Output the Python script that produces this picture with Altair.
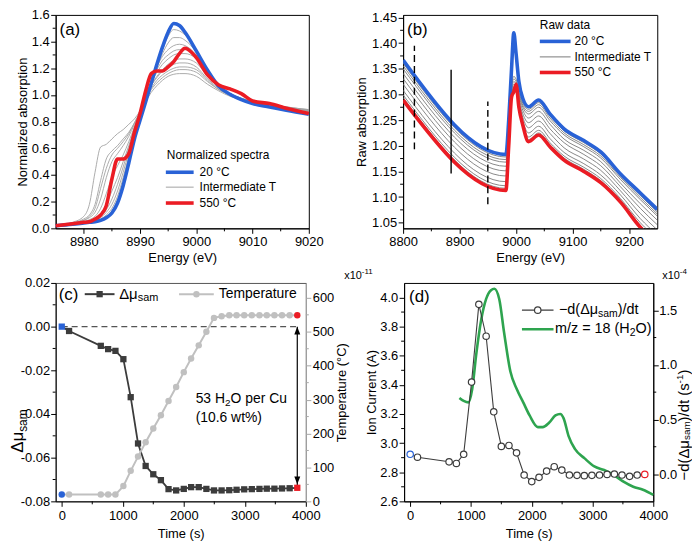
import altair as alt
import pandas as pd

FONT = "Liberation Sans"
BLUE = "#2962d6"
RED = "#eb1c24"
GREEN = "#2ea44f"
DARK = "#3c3c3c"
LIGHT = "#c0c0c0"
AXGREY = "#a8a8a8"

# ---------------- (a) normalized spectra ----------------
E_A = [8975, 8978, 8980, 8981, 8982, 8983, 8984, 8985, 8986, 8987, 8988, 8989, 8990, 8991,
       8992, 8993, 8994, 8995, 8996, 8997, 8998, 9000, 9002, 9004, 9006, 9008, 9010, 9013,
       9016, 9020]
A_BLUE = [0.02, 0.03, 0.04, 0.045, 0.05, 0.06, 0.08, 0.115, 0.19, 0.32, 0.49, 0.67, 0.81, 0.95,
          1.09, 1.23, 1.36, 1.47, 1.535, 1.52, 1.47, 1.33, 1.185, 1.065, 1.005, 0.965, 0.935, 0.91,
          0.885, 0.855]
A_RED = [0.02, 0.035, 0.045, 0.05, 0.07, 0.10, 0.17, 0.37, 0.52, 0.52, 0.56, 0.72, 0.86, 1.03,
         1.16, 1.18, 1.18, 1.21, 1.25, 1.31, 1.35, 1.28, 1.15, 1.075, 1.045, 1.01, 0.955, 0.935,
         0.90, 0.86]
A_GREY = [
    [0.02, 0.03, 0.04, 0.05, 0.055, 0.065, 0.09, 0.13, 0.21, 0.35, 0.52, 0.69, 0.83, 0.96, 1.09, 1.22, 1.34, 1.44, 1.49, 1.48, 1.45, 1.33, 1.19, 1.07, 1.00, 0.96, 0.94, 0.915, 0.89, 0.865],
    [0.02, 0.03, 0.04, 0.05, 0.06, 0.07, 0.10, 0.15, 0.24, 0.38, 0.54, 0.70, 0.84, 0.97, 1.09, 1.21, 1.31, 1.39, 1.43, 1.43, 1.41, 1.32, 1.18, 1.07, 1.00, 0.965, 0.94, 0.92, 0.895, 0.87],
    [0.02, 0.03, 0.045, 0.05, 0.06, 0.08, 0.12, 0.18, 0.28, 0.42, 0.57, 0.72, 0.85, 0.98, 1.10, 1.21, 1.29, 1.34, 1.37, 1.38, 1.37, 1.30, 1.17, 1.07, 1.00, 0.97, 0.945, 0.925, 0.90, 0.875],
    [0.02, 0.03, 0.045, 0.055, 0.065, 0.09, 0.14, 0.22, 0.33, 0.46, 0.60, 0.74, 0.86, 0.99, 1.10, 1.19, 1.26, 1.30, 1.33, 1.34, 1.34, 1.29, 1.16, 1.07, 1.01, 0.975, 0.95, 0.93, 0.905, 0.88],
    [0.02, 0.035, 0.05, 0.06, 0.075, 0.11, 0.18, 0.28, 0.38, 0.50, 0.62, 0.75, 0.87, 0.99, 1.09, 1.17, 1.23, 1.27, 1.30, 1.31, 1.31, 1.27, 1.15, 1.07, 1.01, 0.975, 0.95, 0.93, 0.905, 0.88],
    [0.02, 0.035, 0.05, 0.065, 0.09, 0.15, 0.26, 0.38, 0.47, 0.55, 0.65, 0.76, 0.87, 0.98, 1.07, 1.14, 1.19, 1.23, 1.26, 1.27, 1.27, 1.24, 1.14, 1.06, 1.01, 0.975, 0.95, 0.93, 0.905, 0.88],
    [0.02, 0.04, 0.06, 0.08, 0.12, 0.22, 0.38, 0.50, 0.56, 0.62, 0.69, 0.78, 0.87, 0.97, 1.05, 1.11, 1.15, 1.18, 1.20, 1.21, 1.21, 1.19, 1.11, 1.04, 1.00, 0.97, 0.95, 0.93, 0.905, 0.885],
    [0.02, 0.04, 0.07, 0.10, 0.18, 0.36, 0.52, 0.58, 0.62, 0.67, 0.72, 0.79, 0.87, 0.96, 1.04, 1.09, 1.13, 1.16, 1.18, 1.19, 1.19, 1.17, 1.10, 1.04, 1.00, 0.97, 0.95, 0.93, 0.91, 0.89],
    [0.02, 0.045, 0.09, 0.18, 0.42, 0.61, 0.63, 0.67, 0.71, 0.74, 0.78, 0.82, 0.88, 0.95, 1.02, 1.07, 1.11, 1.14, 1.155, 1.16, 1.16, 1.14, 1.08, 1.03, 0.99, 0.965, 0.945, 0.93, 0.91, 0.89],
    [0.02, 0.04, 0.06, 0.09, 0.15, 0.30, 0.45, 0.55, 0.60, 0.65, 0.71, 0.79, 0.88, 0.98, 1.07, 1.13, 1.18, 1.21, 1.23, 1.24, 1.24, 1.21, 1.12, 1.05, 1.00, 0.97, 0.95, 0.93, 0.905, 0.885],
]
A_XTICKS = [8980, 8990, 9000, 9010, 9020]
A_XMINOR = [8985, 8995, 9005, 9015]
A_YTICKS = [0.0, 0.2, 0.4, 0.6, 0.8, 1.0, 1.2, 1.4, 1.6]
A_YMINOR = [0.1, 0.3, 0.5, 0.7, 0.9, 1.1, 1.3, 1.5]
A_LEGEND = ["20 \u00b0C", "Intermediate T", "550 \u00b0C"]

# ---------------- (b) raw data ----------------
E_B = [8800, 8982, 8987, 8992, 8996, 9000, 9005, 9012, 9022, 9040, 9060, 9085, 9120, 9150, 9185, 9220, 9250]
B_BLUE = [1.367, 1.183, 1.25, 1.35, 1.42, 1.38, 1.325, 1.292, 1.276, 1.289, 1.262, 1.233, 1.210, 1.188, 1.145, 1.108, 1.076]
B_RED = [1.289, 1.113, 1.20, 1.295, 1.305, 1.32, 1.275, 1.24, 1.208, 1.221, 1.198, 1.172, 1.150, 1.128, 1.090, 1.041, 1.010]
B_GREY = [
    [1.361, 1.178, 1.235, 1.32, 1.335, 1.33, 1.305, 1.283, 1.271, 1.284, 1.258, 1.229, 1.206, 1.184, 1.141, 1.103, 1.071],
    [1.356, 1.173, 1.23, 1.315, 1.33, 1.325, 1.301, 1.279, 1.267, 1.280, 1.254, 1.225, 1.202, 1.180, 1.138, 1.099, 1.067],
    [1.350, 1.168, 1.225, 1.31, 1.325, 1.32, 1.297, 1.275, 1.262, 1.275, 1.249, 1.221, 1.198, 1.176, 1.134, 1.095, 1.063],
    [1.341, 1.160, 1.22, 1.305, 1.32, 1.315, 1.292, 1.269, 1.254, 1.267, 1.242, 1.213, 1.191, 1.169, 1.127, 1.087, 1.055],
    [1.331, 1.151, 1.215, 1.30, 1.315, 1.312, 1.287, 1.262, 1.245, 1.258, 1.233, 1.206, 1.183, 1.161, 1.120, 1.078, 1.046],
    [1.320, 1.141, 1.21, 1.30, 1.312, 1.31, 1.283, 1.255, 1.235, 1.248, 1.224, 1.196, 1.174, 1.152, 1.112, 1.068, 1.036],
    [1.308, 1.130, 1.205, 1.298, 1.31, 1.31, 1.279, 1.248, 1.225, 1.238, 1.214, 1.187, 1.165, 1.143, 1.104, 1.058, 1.026],
    [1.299, 1.122, 1.20, 1.296, 1.308, 1.315, 1.277, 1.243, 1.217, 1.230, 1.206, 1.180, 1.158, 1.136, 1.097, 1.050, 1.018],
    [1.294, 1.117, 1.20, 1.295, 1.306, 1.318, 1.276, 1.241, 1.212, 1.225, 1.202, 1.176, 1.154, 1.132, 1.094, 1.045, 1.014],
]
B_XTICKS = [8800, 8900, 9000, 9100, 9200]
B_XMINOR = [8850, 8950, 9050, 9150]
B_YTICKS = [1.05, 1.10, 1.15, 1.20, 1.25, 1.30, 1.35, 1.40, 1.45]
B_YMINOR = [1.075, 1.125, 1.175, 1.225, 1.275, 1.325, 1.375, 1.425]
B_MARK_E = [8820, 8885, 8950]
B_MARK_LO = [1.193, 1.146, 1.086]
B_MARK_HI = [1.395, 1.348, 1.286]
B_MARK_DASHED = [True, False, True]
B_LEGEND = ["20 \u00b0C", "Intermediate T", "550 \u00b0C"]

# ---------------- (c) and (d) time series ----------------
T_TIME = [0, 120, 640, 760, 880, 1010, 1130, 1250, 1375, 1500, 1625, 1750, 1875, 2000, 2120,
          2245, 2370, 2495, 2620, 2745, 2865, 2990, 3115, 3240, 3360, 3485, 3610, 3735, 3860]
C_DMU = [0.000, -0.002, -0.0088, -0.0103, -0.0111, -0.0149, -0.0323, -0.0535, -0.0638, -0.0676,
         -0.0703, -0.0744, -0.0750, -0.0743, -0.0735, -0.0735, -0.0743, -0.0750, -0.0750, -0.0749,
         -0.0747, -0.0745, -0.0744, -0.0743, -0.0742, -0.0742, -0.0741, -0.0740, -0.0738]
C_TEMP = [20, 20, 20, 20, 20, 45, 90, 132, 174, 215, 254, 296, 337, 381, 421, 460, 500, 541, 546,
          549, 549, 549, 549, 549, 549, 549, 549, 549, 549]
D_DERIV = [0.181, 0.154, 0.112, 0.097, 0.181, 0.842, 1.554, 1.262, 0.570, 0.253, 0.262, 0.194,
           -0.009, -0.069, -0.030, 0.027, 0.067, 0.036, -0.009, -0.012, -0.015, -0.012, -0.009,
           -0.003, 0.000, -0.009, -0.021, -0.009, -0.003]
MS_TIME = [810, 880, 960, 1020, 1090, 1170, 1250, 1330, 1385, 1465, 1545, 1650, 1755, 1860, 1965,
           2100, 2180, 2285, 2390, 2470, 2525, 2605, 2710, 2870, 3030, 3190, 3350, 3510, 3670, 3830, 4000]
MS_ION = [3.31, 3.29, 3.28, 3.37, 3.62, 3.85, 3.99, 4.05, 4.06, 3.99, 3.76, 3.49, 3.37, 3.28, 3.19,
          3.11, 3.11, 3.14, 3.19, 3.20, 3.17, 3.05, 2.96, 2.895, 2.84, 2.815, 2.78, 2.735, 2.70, 2.68, 2.645]
TIME_TICKS = [0, 1000, 2000, 3000, 4000]
TIME_MINOR = [500, 1500, 2500, 3500]
C_YTICKS = [-0.08, -0.06, -0.04, -0.02, 0.0, 0.02]
C_YMINOR = [-0.07, -0.05, -0.03, -0.01, 0.01]
T_TICKS = [0, 100, 200, 300, 400, 500, 600]
T_MINOR = [50, 150, 250, 350, 450, 550]
D_YTICKS = [2.6, 2.8, 3.0, 3.2, 3.4, 3.6, 3.8, 4.0]
D_YMINOR = [2.7, 2.9, 3.1, 3.3, 3.5, 3.7, 3.9]
D_RTICKS = [0.0, 0.5, 1.0, 1.5]
D_RMINOR = [0.25, 0.75, 1.25]

H1, H2 = 215, 220
WA, WB, WC, WD = 255, 256, 252, 251
TC = 40  # tick count cap high enough that no listed tick value is dropped
ONE = pd.DataFrame({"k": [0]})
MINUS_FIX = "replace(datum.label, '\u2212', '-')"


def text(s, x, y, size=13, align="left", color="black", angle=None, baseline="middle"):
    kw = dict(text=s, font=FONT, fontSize=size, align=align, baseline=baseline, color=color)
    if angle is not None:
        kw["angle"] = angle
    return alt.Chart(ONE).mark_text(**kw).encode(x=alt.value(x), y=alt.value(y))


def seg(x1, x2, y, color, width):
    return alt.Chart(ONE).mark_rule(color=color, strokeWidth=width).encode(
        x=alt.value(x1), x2=alt.value(x2), y=alt.value(y))


def sym(x, y, shape, color, size, filled=True):
    if filled:
        m = alt.Chart(ONE).mark_point(shape=shape, filled=True, color=color, size=size, opacity=1)
    else:
        m = alt.Chart(ONE).mark_point(shape=shape, filled=False, color=color, fill="white",
                                      fillOpacity=1, size=size, strokeWidth=1.2, opacity=1)
    return m.encode(x=alt.value(x), y=alt.value(y))


def minor_x(vals, scale, h, color="black"):
    return alt.Chart(pd.DataFrame({"m": vals})).mark_rule(color=color, strokeWidth=1).encode(
        x=alt.X("m:Q", scale=scale), y=alt.value(h), y2=alt.value(h + 3))


def minor_y(vals, scale, x0, dx, color="black"):
    return alt.Chart(pd.DataFrame({"m": vals})).mark_rule(color=color, strokeWidth=1).encode(
        y=alt.Y("m:Q", scale=scale), x=alt.value(x0), x2=alt.value(x0 + dx))


def long_df(xs, curves, xname, yname):
    rows = []
    for i, c in enumerate(curves):
        for xv, yv in zip(xs, c):
            rows.append({"curve": i, xname: xv, yname: yv})
    return pd.DataFrame(rows)


# ---------------- panel (a) ----------------
sxa = alt.Scale(domain=[8975, 9020], nice=False, zero=False)
sya = alt.Scale(domain=[0, 1.6], nice=False, zero=False)
xa = alt.X("E:Q", scale=sxa, axis=alt.Axis(values=A_XTICKS, tickCount=TC, format="d", title="Energy (eV)",
                                            labelFlush=False, labelOverlap=False,
                                            labelPadding=2, titlePadding=3))
ya = alt.Y("mu:Q", scale=sya, axis=alt.Axis(values=A_YTICKS, tickCount=TC, format=".1f", labelOverlap=False,
                                             title="Normalized absorption", titlePadding=2))
a_grey = alt.Chart(long_df(E_A, A_GREY, "E", "mu")).mark_line(
    color="#a2a2a2", strokeWidth=0.9, interpolate="monotone").encode(x=xa, y=ya, detail="curve:N")
a_blue = alt.Chart(pd.DataFrame({"E": E_A, "mu": A_BLUE})).mark_line(
    color=BLUE, strokeWidth=3.6, interpolate="monotone").encode(x=xa, y=ya)
a_red = alt.Chart(pd.DataFrame({"E": E_A, "mu": A_RED})).mark_line(
    color=RED, strokeWidth=3.6, interpolate="monotone").encode(x=xa, y=ya)
panel_a = alt.layer(
    a_grey, a_blue, a_red,
    minor_x(A_XMINOR, sxa, H1), minor_y(A_YMINOR, sya, 0, -3),
    text("(a)", 4, 15, size=17),
    text("Normalized spectra", 112, 141.5, size=12),
    seg(111, 139, 158.5, BLUE, 3.6), text(A_LEGEND[0], 145, 158.5, size=12),
    seg(111, 139, 173.5, "#a2a2a2", 1), text(A_LEGEND[1], 145, 173.5, size=12),
    seg(111, 139, 189.5, RED, 3.6), text(A_LEGEND[2], 145, 189.5, size=12),
).properties(width=WA, height=H1)

# ---------------- panel (b) ----------------
sxb = alt.Scale(domain=[8800, 9250], nice=False, zero=False)
syb = alt.Scale(domain=[1.039, 1.455], nice=False, zero=False)
xb = alt.X("E:Q", scale=sxb, axis=alt.Axis(values=B_XTICKS, tickCount=TC, format="d", title="Energy (eV)",
                                            labelFlush=False, labelOverlap=False,
                                            labelPadding=2, titlePadding=3))
yb = alt.Y("mu:Q", scale=syb, axis=alt.Axis(values=B_YTICKS, tickCount=TC, format=".2f", labelOverlap=False,
                                             title="Raw absorption", titlePadding=3.5))
b_grey = alt.Chart(long_df(E_B, B_GREY, "E", "mu")).mark_line(
    color="#7a7a7a", strokeWidth=0.9, interpolate="monotone", clip=True).encode(x=xb, y=yb, detail="curve:N")
b_blue = alt.Chart(pd.DataFrame({"E": E_B, "mu": B_BLUE})).mark_line(
    color=BLUE, strokeWidth=3.6, interpolate="monotone", clip=True).encode(x=xb, y=yb)
b_red = alt.Chart(pd.DataFrame({"E": E_B, "mu": B_RED})).mark_line(
    color=RED, strokeWidth=3.6, interpolate="monotone", clip=True).encode(x=xb, y=yb)
marks_df = pd.DataFrame({"E": B_MARK_E, "lo": B_MARK_LO, "hi": B_MARK_HI, "dashed": B_MARK_DASHED})
b_dash = alt.Chart(marks_df[marks_df["dashed"]]).mark_rule(color="black", strokeWidth=1.4, strokeDash=[7, 4]).encode(
    x=alt.X("E:Q", scale=sxb), y=alt.Y("lo:Q", scale=syb), y2="hi:Q")
b_solid = alt.Chart(marks_df[~marks_df["dashed"]]).mark_rule(color="black", strokeWidth=1.4).encode(
    x=alt.X("E:Q", scale=sxb), y=alt.Y("lo:Q", scale=syb), y2="hi:Q")
panel_b = alt.layer(
    b_grey, b_blue, b_red, b_dash, b_solid,
    minor_x(B_XMINOR, sxb, H1), minor_y(B_YMINOR, syb, 0, -3),
    text("(b)", 4, 15, size=17),
    text("Raw data", 137.7, 10, size=12),
    seg(137.7, 168.7, 26.7, BLUE, 3.6), text(B_LEGEND[0], 172.7, 26.7, size=12),
    seg(137.7, 168.7, 42.3, "#7a7a7a", 1), text(B_LEGEND[1], 172.7, 42.3, size=12),
    seg(137.7, 168.7, 58, RED, 3.6), text(B_LEGEND[2], 172.7, 58, size=12),
).properties(width=WB, height=H1)

# ---------------- panel (c) ----------------
sxt = alt.Scale(domain=[-100, 4000], nice=False, zero=False)
syc = alt.Scale(domain=[-0.08, 0.02], nice=False, zero=False)
syT = alt.Scale(domain=[0, 644], nice=False, zero=False)
dfc = pd.DataFrame({"t": T_TIME, "dmu": C_DMU, "T": C_TEMP, "d": D_DERIV})
xt_axis = alt.Axis(values=TIME_TICKS, tickCount=TC, format="d", title="Time (s)", labelFlush=False,
                   labelOverlap=False, labelPadding=3, titlePadding=5)
xc = alt.X("t:Q", scale=sxt, axis=xt_axis)
xc_plain = alt.X("t:Q", scale=sxt)
yc = alt.Y("dmu:Q", scale=syc, axis=alt.Axis(values=C_YTICKS, tickCount=TC, format=".2f", title=None,
                                              labelOverlap=False, labelExpr=MINUS_FIX, labelPadding=1))
yc_plain = alt.Y("dmu:Q", scale=syc)
yT = alt.Y("T:Q", scale=syT, axis=alt.Axis(orient="right", values=T_TICKS, tickCount=TC, format="d",
                                            title="Temperature (\u00b0C)", titleAngle=270,
                                            titleBaseline="top", domainColor=AXGREY, labelOverlap=False,
                                            tickColor=AXGREY, labelPadding=1.5, titlePadding=2))
yT_plain = alt.Y("T:Q", scale=syT)
zero_df = pd.DataFrame({"t0": [T_TIME[0]], "t1": [T_TIME[-1]], "z": [0.0]})
c_zero = alt.Chart(zero_df).mark_rule(color="#555555", strokeWidth=1.2, strokeDash=[6, 4]).encode(
    x=alt.X("t0:Q", scale=sxt), x2="t1:Q", y=alt.Y("z:Q", scale=syc))
arrow_df = pd.DataFrame({"t": [T_TIME[-1]], "y0": [0.0], "y1": [C_DMU[-1]]})
c_arrow = alt.Chart(arrow_df).mark_rule(color="black", strokeWidth=1.2).encode(
    x=alt.X("t:Q", scale=sxt), y=alt.Y("y0:Q", scale=syc), y2="y1:Q")
c_head_top = alt.Chart(arrow_df).mark_point(shape="M0,0L-0.75,2L0.75,2Z", filled=True, color="black",
                                            size=64, opacity=1).encode(
    x=alt.X("t:Q", scale=sxt), y=alt.Y("y0:Q", scale=syc))
c_head_bot = alt.Chart(arrow_df).mark_point(shape="M0,-0.875L-0.75,-2.875L0.75,-2.875Z", filled=True,
                                            color="black", size=64, opacity=1).encode(
    x=alt.X("t:Q", scale=sxt), y=alt.Y("y1:Q", scale=syc))
c_dmu_line = alt.Chart(dfc).mark_line(color=DARK, strokeWidth=1.8).encode(x=xc, y=yc)
c_dmu_mid = alt.Chart(dfc.iloc[1:-1]).mark_square(size=40, color=DARK, opacity=1).encode(x=xc_plain, y=yc_plain)
c_dmu_first = alt.Chart(dfc.iloc[[0]]).mark_square(size=40, color=BLUE, opacity=1).encode(x=xc_plain, y=yc_plain)
c_dmu_last = alt.Chart(dfc.iloc[[-1]]).mark_square(size=40, color=RED, opacity=1).encode(x=xc_plain, y=yc_plain)
c_left = alt.layer(
    c_dmu_line, c_zero, c_arrow, c_head_top, c_head_bot, c_dmu_mid, c_dmu_first, c_dmu_last,
    minor_x(TIME_MINOR, sxt, H2), minor_y(C_YMINOR, syc, 0, -3),
    text("(c)", 3, 12, size=17),
    seg(29.3, 59.3, 11.3, DARK, 2), sym(44.3, 11.3, "square", DARK, 40),
    text("\u0394\u03bc", 64, 11.3, size=15), text("sam", 82.7, 15.5, size=11),
    seg(124.3, 159.3, 11.3, LIGHT, 2), sym(141.8, 11.3, "circle", LIGHT, 42),
    text("Temperature", 164.3, 11.3, size=14),
    text("53 H", 141, 117, size=14), text("2", 170.6, 121, size=10), text("O per Cu", 176.2, 117, size=14),
    text("(10.6 wt%)", 141, 136, size=14),
    text("\u0394\u03bc", -38, 171, size=17, angle=270), text("sam", -33, 150, size=12, angle=270),
)
c_T_line = alt.Chart(dfc).mark_line(color=LIGHT, strokeWidth=2).encode(x=xc_plain, y=yT)
c_T_mid = alt.Chart(dfc.iloc[1:-1]).mark_circle(size=42, color=LIGHT, opacity=1).encode(x=xc_plain, y=yT_plain)
c_T_first = alt.Chart(dfc.iloc[[0]]).mark_circle(size=42, color=BLUE, opacity=1).encode(x=xc_plain, y=yT_plain)
c_T_last = alt.Chart(dfc.iloc[[-1]]).mark_circle(size=42, color=RED, opacity=1).encode(x=xc_plain, y=yT_plain)
c_right = alt.layer(c_T_line, c_T_mid, c_T_first, c_T_last, minor_y(T_MINOR, syT, WC, 3, AXGREY))
panel_c = alt.layer(c_left, c_right).resolve_scale(y="independent").properties(
    width=WC, height=H2, view=alt.ViewBackground(stroke="#555555"))

# ---------------- panel (d) ----------------
syi = alt.Scale(domain=[2.6, 4.1], nice=False, zero=False)
syd = alt.Scale(domain=[-0.25, 1.75], nice=False, zero=False)
dfm = pd.DataFrame({"t": MS_TIME, "ion": MS_ION})
yi = alt.Y("ion:Q", scale=syi, axis=alt.Axis(values=D_YTICKS, tickCount=TC, format=".1f", title="Ion Current (A)",
                                              labelOverlap=False, titlePadding=1))
yd = alt.Y("d:Q", scale=syd, axis=alt.Axis(orient="right", values=D_RTICKS, tickCount=TC, format=".1f", title=None,
                                            labelOverlap=False, labelPadding=0.5))
yd_plain = alt.Y("d:Q", scale=syd)
d_green = alt.Chart(dfm).mark_line(color=GREEN, strokeWidth=2.6, interpolate="monotone").encode(
    x=alt.X("t:Q", scale=sxt, axis=xt_axis), y=yi)
RX = 281.5
d_left = alt.layer(
    d_green, minor_x(TIME_MINOR, sxt, H2), minor_y(D_YMINOR, syi, 0, -3),
    text("(d)", 5, 13.7, size=17),
    seg(118.7, 150.5, 27.4, DARK, 1.2), sym(134.6, 27.4, "circle", DARK, 42, filled=False),
    text("\u2212d(\u0394\u03bc", 156, 27.4, size=14.5), text("sam", 195.4, 31.5, size=10.5),
    text(")/dt", 215.2, 27.4, size=14.5),
    seg(118.7, 150.5, 46.7, GREEN, 2.6),
    text("m/z = 18 (H", 152, 46.7, size=14.5), text("2", 227.3, 50.8, size=10.5),
    text("O)", 233.1, 46.7, size=14.5),
    text("x10", -42.6, -7.3, size=11, align="right"), text("-11", -42.6, -11, size=8),
    text("x10", 260, -7.3, size=11), text("-4", 277.7, -11, size=8),
    text("\u2212d(\u0394\u03bc", RX, 199, size=15, angle=270),
    text("sam", RX + 3, 158.2, size=10, angle=270),
    text(")/dt (s", RX, 139.5, size=15, angle=270),
    text("-1", RX - 4, 101.2, size=10, angle=270),
    text(")", RX, 92.3, size=15, angle=270),
)
d_line = alt.Chart(dfc).mark_line(color=DARK, strokeWidth=1.1).encode(x=xc_plain, y=yd)
d_mid = alt.Chart(dfc.iloc[1:-1]).mark_point(shape="circle", filled=False, color=DARK, fill="white",
                                             fillOpacity=1, size=42, strokeWidth=1.2, opacity=1).encode(x=xc_plain, y=yd_plain)
d_first = alt.Chart(dfc.iloc[[0]]).mark_point(shape="circle", filled=False, color=BLUE, fill="white",
                                              fillOpacity=1, size=42, strokeWidth=1.2, opacity=1).encode(x=xc_plain, y=yd_plain)
d_last = alt.Chart(dfc.iloc[[-1]]).mark_point(shape="circle", filled=False, color=RED, fill="white",
                                              fillOpacity=1, size=42, strokeWidth=1.2, opacity=1).encode(x=xc_plain, y=yd_plain)
d_right = alt.layer(d_line, d_mid, d_first, d_last, minor_y(D_RMINOR, syd, WD, 3))
panel_d = alt.layer(d_left, d_right).resolve_scale(y="independent").properties(width=WD, height=H2)

row1 = alt.hconcat(panel_a, panel_b, spacing=31)
row2 = alt.hconcat(panel_c, panel_d, spacing=-6)
chart = (
    alt.vconcat(row1, row2, spacing=2)
    .properties(padding={"left": 0, "top": -2, "right": 0, "bottom": 0})
    .configure(font=FONT)
    .configure_view(stroke="black", strokeWidth=1)
    .configure_axis(labelFont=FONT, titleFont=FONT, labelFontSize=13, titleFontSize=13,
                    titleFontWeight="normal", labelColor="black", titleColor="black",
                    domainColor="black", tickColor="black", tickSize=5, tickWidth=1, domainWidth=1,
                    grid=False, labelPadding=1.5, titlePadding=2, labelOverlap=False)
)
chart.save("out.html", embed_options={"renderer": "svg", "actions": False})
